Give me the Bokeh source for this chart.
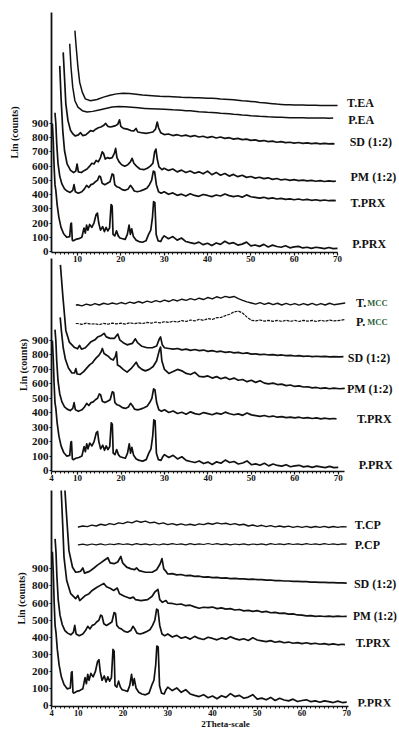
from bokeh.plotting import figure
from bokeh.layouts import column
from bokeh.models import FixedTicker, LinearAxis, Range1d
from bokeh.core.properties import value
from bokeh.embed import file_html
from bokeh.resources import INLINE

FONT = "Liberation Serif"
INK = "#111111"
GREEN = "#2f5f35"

# ---------------- shared grids ----------------
TAIL_X = [30, 31, 32, 33, 34, 35, 36, 37, 38, 39, 40, 41, 42, 43, 44, 45, 46, 47, 48, 49,
          50, 51, 52, 53, 54, 55, 56, 57, 58, 59, 60, 61, 62, 63, 64, 65, 66, 67, 68, 69]
FLAT_X = [10, 11, 12, 13, 14, 15, 16, 17, 18, 19, 20, 21, 22, 23, 24, 25, 26, 27, 28, 29,
          30, 31, 32, 33, 34, 35, 36, 37, 38, 39, 40, 41, 42, 43, 44, 45, 46, 47, 48, 49,
          50, 51, 52, 53, 54, 55, 56, 57, 58, 59, 60, 61, 62, 63, 64, 65, 66, 67, 68, 69]

X_TICKS_TOP = [10, 20, 30, 40, 50, 60, 70]
X_TICKS = [4, 10, 20, 30, 40, 50, 60, 70]
Y_TICKS = [0, 100, 200, 300, 400, 500, 600, 700, 800, 900]
Y_TICKS_CP = [0, 100, 200, 300, 400, 500, 600, 700, 800]
Y_LABELS_CP = {700: "800", 800: "900"}

# ---------------- P.PRX (pure piroxicam) ----------------
PPRX_HX = [4.2, 4.4, 4.6, 4.8, 5.0, 5.3, 5.7, 6.2, 6.8, 7.5, 8.2, 8.45, 8.6, 8.8, 9.0, 9.6, 10.3,
           11.0, 11.5, 11.8, 12.1, 12.4, 12.8, 13.3, 13.8, 14.3, 14.6, 14.9, 15.3, 15.8, 16.2,
           16.6, 17.0, 17.4, 17.75, 18.0, 18.2, 18.6, 19.0, 19.4, 19.8, 20.4, 21.0, 21.5, 21.9,
           22.2, 22.5, 22.9, 23.5, 24.2, 25.0, 25.8, 26.4, 26.9, 27.3, 27.55, 27.85, 28.15,
           28.6, 29.2, 29.6]
PPRX_HY = [900, 780, 600, 470, 430, 330, 240, 170, 125, 100, 105, 195, 200, 80, 75, 85, 90,
           100, 165, 130, 185, 150, 190, 170, 200, 260, 270, 200, 150, 175, 140,
           170, 145, 165, 330, 320, 120, 110, 145, 110, 95, 90, 85, 120, 185,
           120, 160, 105, 80, 70, 65, 75, 120, 150, 240, 350, 345, 120,
           75, 70, 95]
PPRX_TY = [110, 90, 105, 80, 95, 70, 62, 55, 66, 48, 58, 42, 60, 50, 72, 55, 62, 45, 52, 66,
           40, 46, 36, 50, 32, 45, 35, 30, 40, 26, 32, 36, 25, 30, 22, 30, 25, 20, 28, 20]
PPRX_END = ([70.0], [22])

# ---------------- T.PRX ----------------
TPRX_HX = [4.8, 5.0, 5.2, 5.5, 5.9, 6.4, 7.0, 7.6, 8.3, 8.9, 9.2, 9.5, 10.2, 11.0, 11.6,
           12.1, 12.6, 13.1, 13.6, 14.1, 14.6, 15.0, 15.3, 15.7, 16.3, 16.9, 17.5, 18.0, 18.3,
           18.6, 19.1, 19.6, 20.3, 21.0, 21.7, 22.2, 22.6, 23.1, 23.8, 24.5, 25.3, 26.0, 26.6,
           27.1, 27.5, 27.8, 28.2, 28.7, 29.3]
TPRX_HY = [975, 900, 760, 620, 530, 475, 440, 425, 415, 430, 470, 420, 410, 420, 440,
           465, 450, 470, 475, 490, 500, 530, 525, 480, 470, 480, 490, 545, 540,
           470, 455, 450, 435, 430, 440, 465, 450, 425, 420, 425, 435, 445, 470,
           500, 565, 560, 470, 420, 410]
TPRX_TY = [420, 402, 412, 395, 403, 390, 406, 394, 388, 401, 394, 386, 397, 390, 404, 393,
           386, 392, 382, 398, 385, 380, 375, 381, 372, 377, 369, 373, 366, 370, 364, 369,
           362, 366, 360, 364, 358, 362, 357, 360]
TPRX_END = ([69.6], [358])

# ---------------- panel 1: EA ----------------
PM1_HX = [5.9, 6.2, 6.6, 7.0, 7.6, 8.4, 9.1, 9.6, 9.9, 10.2, 10.9, 11.6, 12.2, 12.8, 13.3,
          13.8, 14.3, 14.8, 15.3, 15.7, 16.0, 16.4, 16.9, 17.4, 18.0, 18.5, 18.8, 19.1, 19.6,
          20.2, 20.9, 21.6, 22.2, 22.6, 23.0, 23.6, 24.4, 25.3, 26.1, 26.8, 27.4, 27.8, 28.1,
          28.4, 28.8, 29.5]
PM1_HY = [1305, 1085, 850, 710, 616, 570, 555, 565, 615, 560, 555, 570, 580, 600, 620,
          615, 640, 630, 660, 700, 690, 650, 660, 655, 660, 690, 725, 660, 630,
          610, 600, 610, 630, 655, 620, 600, 580, 575, 585, 600, 620, 700, 720,
          650, 595, 575]
PM1_TY = [585, 570, 580, 560, 572, 555, 566, 550, 560, 546, 565, 540, 556, 536, 548, 530,
          542, 526, 536, 521, 527, 516, 522, 512, 518, 507, 513, 503, 508, 500, 505, 498,
          502, 496, 500, 494, 498, 492, 497, 493]
PM1_END = ([69.6], [495])

SD1_HX = [6.7, 7.0, 7.3, 7.8, 8.4, 9.0, 9.5, 10.2, 10.7, 11.2, 11.9, 12.5, 13.0, 13.6, 14.2,
          14.8, 15.4, 16.0, 16.5, 17.0, 17.6, 18.2, 18.8, 19.3, 19.7, 20.0, 20.6, 21.5, 22.3,
          23.0, 23.5, 23.9, 24.8, 25.8, 26.6, 27.4, 28.0, 28.4, 28.7, 29.2]
SD1_HY = [1400, 1225, 1040, 920, 850, 825, 812, 820, 835, 815, 820, 835, 850, 845, 860,
          870, 875, 885, 900, 880, 875, 880, 885, 895, 925, 880, 865, 860, 850,
          848, 865, 840, 835, 830, 835, 840, 860, 910, 870, 835]
SD1_TY = [822, 826, 815, 821, 812, 818, 808, 815, 805, 810, 800, 808, 798, 805, 795, 800,
          790, 795, 786, 790, 781, 785, 776, 780, 772, 776, 768, 772, 765, 768, 762, 766,
          760, 764, 758, 762, 756, 760, 756, 758]
SD1_END = ([69.3], [757])

PEA_HX = [8.2, 8.5, 8.9, 9.4, 10.1, 11.1, 12.2, 13.5, 15.0, 16.5, 18.0, 19.5, 21.0, 22.5,
          24.0, 25.5, 27.0, 28.5]
PEA_HY = [1460, 1295, 1155, 1060, 1015, 990, 980, 985, 995, 1005, 1015, 1020, 1018, 1014,
          1010, 1006, 1003, 1001]
PEA_TY = [1000, 998, 996, 995, 993, 990, 989, 986, 982, 981, 978, 977, 975, 972, 970, 968,
          965, 963, 960, 958, 955, 953, 950, 949, 947, 946, 944, 943, 942, 941, 940, 941,
          940, 939, 938, 939, 938, 938, 937, 938]
PEA_END = ([], [])

TEA_HX = [9.4, 9.7, 10.1, 10.5, 11.1, 11.8, 13.0, 14.5, 16.0, 17.5, 19.0, 20.5, 22.0, 23.5,
          25.0, 26.5, 28.0, 29.0]
TEA_HY = [1553, 1436, 1296, 1190, 1120, 1073, 1060, 1068, 1085, 1098, 1108, 1112, 1110,
          1106, 1100, 1097, 1093, 1091]
TEA_TY = [1090, 1089, 1088, 1086, 1084, 1083, 1082, 1081, 1080, 1079, 1078, 1077, 1075,
          1072, 1070, 1068, 1066, 1063, 1060, 1058, 1055, 1052, 1048, 1045, 1042, 1039,
          1036, 1034, 1032, 1031, 1030, 1029, 1029, 1028, 1028, 1028, 1027, 1027, 1027, 1027]
TEA_END = ([70.0], [1027])

# ---------------- panel 2: MCC ----------------
SD2_HX = [6.05, 6.6, 7.0, 7.3, 8.1, 9.2, 10.0, 10.45, 10.9, 11.8, 13.0, 14.0, 14.6, 15.5,
          16.1, 16.6, 17.5, 18.5, 19.25, 19.7, 20.5, 21.4, 22.6, 23.3, 23.8, 24.8, 26.0,
          27.2, 28.2, 28.8, 29.1, 29.5]
SD2_HY = [1424, 1212, 1074, 970, 889, 854, 843, 866, 840, 850, 889, 905, 924, 935,
          950, 925, 915, 915, 945, 905, 885, 870, 880, 912, 885, 860, 850,
          850, 862, 910, 925, 870]
SD2_TY = [850, 845, 840, 845, 835, 840, 832, 838, 830, 834, 825, 830, 822, 826, 818, 822,
          815, 818, 810, 814, 806, 808, 802, 805, 800, 802, 797, 800, 795, 797, 793, 795,
          790, 793, 789, 791, 788, 790, 787, 789]
SD2_END = ([70.3, 71.2], [787, 788])

PM2_HX = [6.0, 6.3, 6.7, 7.2, 7.9, 8.7, 9.3, 9.6, 9.9, 10.6, 11.4, 12.3, 12.9, 13.4, 13.8,
          14.3, 14.9, 15.4, 15.7, 16.1, 16.6, 17.1, 17.6, 18.2, 18.7, 18.95, 19.2, 19.8,
          20.5, 21.4, 22.3, 23.0, 23.5, 24.0, 24.8, 25.6, 26.5, 27.4, 28.2, 28.8, 29.1, 29.4]
PM2_HY = [1060, 960, 850, 770, 710, 675, 675, 705, 668, 665, 685, 716, 735, 745, 762,
          780, 797, 820, 845, 810, 800, 790, 774, 765, 790, 822, 730, 720,
          700, 681, 705, 730, 750, 720, 700, 690, 700, 720, 760, 830, 855, 760]
PM2_TY = [700, 672, 685, 700, 690, 672, 665, 680, 652, 648, 655, 640, 650, 635, 645, 630,
          640, 625, 630, 615, 625, 610, 622, 605, 600, 605, 595, 598, 588, 592, 582, 586,
          578, 580, 572, 575, 568, 572, 566, 570]
PM2_END = ([70.3, 71.5], [566, 568])

TMCC_Y = [1148, 1140, 1152, 1144, 1156, 1146, 1158, 1150, 1160, 1152,
          1163, 1154, 1166, 1158, 1170, 1160, 1173, 1164, 1176, 1168,
          1180, 1170, 1183, 1174, 1186, 1178, 1190, 1181, 1193, 1184,
          1198, 1188, 1203, 1194, 1206, 1198, 1205, 1190, 1178, 1168,
          1160, 1152, 1162, 1150, 1160, 1148, 1158, 1146, 1157, 1147,
          1156, 1145, 1156, 1146, 1157, 1145, 1156, 1146, 1158, 1148]
TMCC_START = ([9.6], [1145])
TMCC_END = ([70.5, 71.6], [1155, 1160])

PMCC_Y = [1018, 1012, 1020, 1014, 1016, 1010, 1019, 1013, 1021, 1015,
          1020, 1014, 1023, 1017, 1022, 1018, 1026, 1020, 1028, 1022,
          1030, 1025, 1034, 1028, 1038, 1032, 1042, 1036, 1046, 1040,
          1052, 1046, 1058, 1060, 1072, 1082, 1098, 1104, 1090, 1062,
          1040, 1036, 1042, 1034, 1040, 1033, 1039, 1032, 1040, 1033,
          1039, 1032, 1040, 1034, 1039, 1032, 1040, 1034, 1041, 1036]
PMCC_START = ([9.6], [1018])
PMCC_END = ([70.5, 71.6], [1040, 1045])

# ---------------- panel 3: CP ----------------
SD3_HX = [6.9, 7.4, 7.9, 8.7, 9.4, 10.0, 10.5, 11.0, 11.4, 12.5, 13.5, 14.2, 15.0, 15.8,
          16.6, 17.1, 18.0, 18.8, 19.5, 19.9, 20.8, 21.8, 22.6, 23.0, 23.6, 25.0, 26.5,
          27.5, 28.3, 28.7, 29.1, 29.6]
SD3_HY = [1300, 1098, 906, 809, 780, 782, 786, 805, 775, 785, 805, 820, 835, 850,
          865, 835, 830, 840, 872, 835, 810, 800, 795, 805, 790, 780, 780,
          795, 830, 860, 800, 785]
SD3_TY = [770, 772, 765, 767, 760, 762, 756, 757, 752, 753, 749, 750, 746, 747, 743, 744,
          741, 742, 739, 740, 737, 737, 734, 735, 731, 732, 729, 729, 727, 727, 725, 725,
          723, 723, 721, 721, 720, 720, 718, 718]
SD3_END = ([70.0], [717])

PM3_HX = [6.1, 6.5, 6.8, 7.4, 8.3, 9.4, 9.9, 10.3, 11.6, 12.4, 13.1, 14.0, 15.0, 15.7,
          16.3, 17.2, 17.9, 18.7, 19.2, 20.3, 21.5, 22.3, 22.8, 24.0, 25.5, 26.5, 27.1,
          27.8, 28.2, 28.8, 29.6]
PM3_HY = [1300, 1060, 867, 732, 655, 626, 645, 615, 645, 655, 674, 690, 705, 715,
          695, 685, 674, 688, 655, 640, 628, 635, 620, 615, 620, 640, 665,
          680, 620, 605, 615]
PM3_TY = [600, 598, 592, 595, 585, 588, 578, 570, 576, 574, 577, 568, 572, 565, 568, 560,
          563, 555, 558, 552, 556, 548, 552, 544, 546, 540, 542, 536, 537, 531, 530, 526,
          527, 523, 525, 522, 524, 521, 524, 522]
PM3_END = ([70.0], [523])

TCP_Y = [1044, 1050, 1046, 1055, 1050, 1060, 1054, 1064, 1058, 1068,
         1064, 1074, 1068, 1080, 1072, 1078, 1068, 1072, 1062, 1068,
         1058, 1064, 1056, 1062, 1055, 1060, 1054, 1062, 1058, 1066,
         1060, 1068, 1062, 1066, 1058, 1064, 1056, 1060, 1050, 1056,
         1048, 1054, 1046, 1052, 1045, 1050, 1044, 1049, 1042, 1048,
         1042, 1048, 1041, 1047, 1042, 1048, 1041, 1047, 1042, 1046]
TCP_START = ([9.9], [1044])
TCP_END = ([70.0], [1045])

PCP_Y = [940, 944, 938, 945, 940, 946, 939, 945, 941, 947,
         942, 946, 940, 947, 941, 946, 940, 945, 939, 946,
         941, 947, 942, 946, 940, 947, 941, 946, 942, 948,
         942, 947, 941, 946, 940, 945, 941, 946, 940, 945,
         941, 946, 940, 947, 942, 946, 941, 947, 942, 946,
         941, 947, 942, 946, 941, 947, 942, 946, 941, 946]
PCP_START = ([9.9], [940])
PCP_END = ([70.0], [944])

# ---------------- labels ----------------
P1_NAMES = ["T.EA", "P.EA", "SD (1:2)", "PM (1:2)", "T.PRX", "P.PRX"]
P1_LX = [72.2, 72.5, 72.8, 73.0, 73.0, 73.4]
P1_LY = [1047, 921, 773, 527, 344, 56]

P2_NAMES = ["T.", "P.", "SD (1:2)", "PM (1:2)", "T.PRX", "P.PRX"]
P2_LX = [74.1, 74.1, 72.2, 72.0, 74.3, 74.7]
P2_LY = [1163, 1025, 782, 561, 360, 35]
P2_SUB = ["MCC", "MCC"]
P2_SUB_X = [76.7, 76.7]
P2_SUB_Y = [1163, 1025]

P3_NAMES = ["T.CP", "P.CP", "SD (1:2)", "PM (1:2)", "T.PRX", "P.PRX"]
P3_LX = [71.8, 71.8, 71.6, 71.4, 72.0, 72.4]
P3_LY = [1054, 938, 713, 523, 366, 19]

Y_TITLE = "Lin (counts)"
X_TITLE = "2Theta-scale"

MINOR_X = list(range(5, 71))


def head_tail(hx, hy, ty, end):
    return hx + TAIL_X + end[0], hy + ty + end[1]


def flat(start, ys, end):
    return start[0] + FLAT_X + end[0], start[1] + ys + end[1]


def make_fig(height, x_end, y_start, y_end, b_left, b_top, b_bottom, xticks, xbound,
             yticks, overrides=None):
    p = figure(width=399, height=height,
               x_range=Range1d(4, x_end), y_range=Range1d(y_start, y_end),
               output_backend="svg", toolbar_location=None,
               min_border_left=b_left, min_border_right=0,
               min_border_top=b_top, min_border_bottom=b_bottom)
    p.outline_line_color = None
    p.xgrid.visible = False
    p.ygrid.visible = False
    p.background_fill_color = None
    p.border_fill_color = None

    xa = p.xaxis[0]
    xa.ticker = FixedTicker(ticks=xticks, minor_ticks=MINOR_X)
    xa.bounds = xbound
    xa.axis_line_width = 1.6
    xa.axis_line_color = INK
    xa.major_tick_line_color = INK
    xa.major_tick_line_width = 1.2
    xa.major_tick_out = 3
    xa.major_tick_in = 0
    xa.minor_tick_line_color = INK
    xa.minor_tick_out = 2
    xa.minor_tick_in = 0
    xa.major_label_standoff = 0
    xa.major_label_text_font = FONT
    xa.major_label_text_font_style = "bold"
    xa.major_label_text_font_size = "9px"
    xa.major_label_text_color = INK

    ya = p.yaxis[0]
    ya.ticker = FixedTicker(ticks=yticks)
    ya.axis_line_width = 1.8
    ya.axis_line_color = INK
    ya.major_tick_line_color = INK
    ya.major_tick_out = 2
    ya.major_tick_in = 0
    ya.minor_tick_line_color = None
    ya.major_label_standoff = 1
    ya.major_label_text_font = FONT
    ya.major_label_text_font_style = "bold"
    ya.major_label_text_font_size = "11px"
    ya.major_label_text_color = INK
    if overrides:
        ya.major_label_overrides = overrides
    return p


def title_axis(p, side, lo, hi, text, standoff, size):
    ax = LinearAxis(ticker=FixedTicker(ticks=[]), bounds=(lo, hi), axis_label=text,
                    axis_line_color=None, major_tick_line_color=None,
                    minor_tick_line_color=None, major_tick_out=0, major_tick_in=0,
                    minor_tick_out=0, minor_tick_in=0,
                    major_label_text_font_size="0px", major_label_standoff=0,
                    axis_label_standoff=standoff, axis_label_text_font=FONT,
                    axis_label_text_font_style="bold", axis_label_text_font_size=size,
                    axis_label_text_color=INK)
    p.add_layout(ax, side)


def add_curves(p, curves):
    for xs, ys, lw, dash in curves:
        p.line(xs, ys, line_color=INK, line_width=lw, line_dash=dash, line_join="round")


def add_names(p, xs, ys, names, size="12px"):
    p.text(x=xs, y=ys, text=names, text_font=value(FONT), text_font_style="bold",
           text_font_size=size, text_color=INK, text_align="left", text_baseline="middle")


pprx = head_tail(PPRX_HX, PPRX_HY, PPRX_TY, PPRX_END)
tprx = head_tail(TPRX_HX, TPRX_HY, TPRX_TY, TPRX_END)

# ---------------- panel 1 ----------------
f1 = make_fig(270, 84.3, -7, 1680, 51, 12, 18, X_TICKS_TOP, (4, 70), Y_TICKS)
add_curves(f1, [
    (*pprx, 1.7, "solid"),
    (*tprx, 1.7, "solid"),
    (*head_tail(PM1_HX, PM1_HY, PM1_TY, PM1_END), 1.7, "solid"),
    (*head_tail(SD1_HX, SD1_HY, SD1_TY, SD1_END), 1.7, "solid"),
    (*head_tail(PEA_HX, PEA_HY, PEA_TY, PEA_END), 1.5, "solid"),
    (*head_tail(TEA_HX, TEA_HY, TEA_TY, TEA_END), 1.5, "solid"),
])
add_names(f1, P1_LX, P1_LY, P1_NAMES)
title_axis(f1, "left", 0, 1068, Y_TITLE, 9, "10px")

# ---------------- panel 2 ----------------
f2 = make_fig(232, 84.1, -7, 1468, 47, 2, 17, X_TICKS, (4, 71.5), Y_TICKS)
add_curves(f2, [
    (*pprx, 1.7, "solid"),
    (*tprx, 1.7, "solid"),
    (*head_tail(PM2_HX, PM2_HY, PM2_TY, PM2_END), 1.7, "solid"),
    (*head_tail(SD2_HX, SD2_HY, SD2_TY, SD2_END), 1.7, "solid"),
    (*flat(PMCC_START, PMCC_Y, PMCC_END), 1.2, "3 1"),
    (*flat(TMCC_START, TMCC_Y, TMCC_END), 1.4, "solid"),
])
add_names(f2, P2_LX, P2_LY, P2_NAMES)
f2.text(x=P2_SUB_X, y=P2_SUB_Y, text=P2_SUB, text_font=value(FONT), text_font_style="bold",
        text_font_size="8.5px", text_color=GREEN, text_align="left", text_baseline="middle")
title_axis(f2, "left", 0, 900, Y_TITLE, 0, "10px")
f2.margin = (-14, 0, 0, 0)

# ---------------- panel 3 ----------------
f3 = make_fig(243, 81.8, -3, 1257, 50, 2, 23, X_TICKS, (4, 70.5), Y_TICKS_CP, Y_LABELS_CP)
f3.xaxis[0].major_label_text_font_size = "8.5px"
add_curves(f3, [
    (*pprx, 1.7, "solid"),
    (*tprx, 1.7, "solid"),
    (*head_tail(PM3_HX, PM3_HY, PM3_TY, PM3_END), 1.7, "solid"),
    (*head_tail(SD3_HX, SD3_HY, SD3_TY, SD3_END), 1.7, "solid"),
    (*flat(PCP_START, PCP_Y, PCP_END), 1.2, "solid"),
    (*flat(TCP_START, TCP_Y, TCP_END), 1.4, "solid"),
])
add_names(f3, P3_LX[:3], P3_LY[:3], P3_NAMES[:3])
add_names(f3, P3_LX[3:4], P3_LY[3:4], P3_NAMES[3:4], size="11.5px")
add_names(f3, P3_LX[4:], P3_LY[4:], P3_NAMES[4:])
title_axis(f3, "left", 0, 880, Y_TITLE, 2, "10px")
title_axis(f3, "below", 10, 70.5, X_TITLE, 0, "9px")

layout = column(f1, f2, f3)
open("out.html", "w").write(file_html(layout, INLINE))
